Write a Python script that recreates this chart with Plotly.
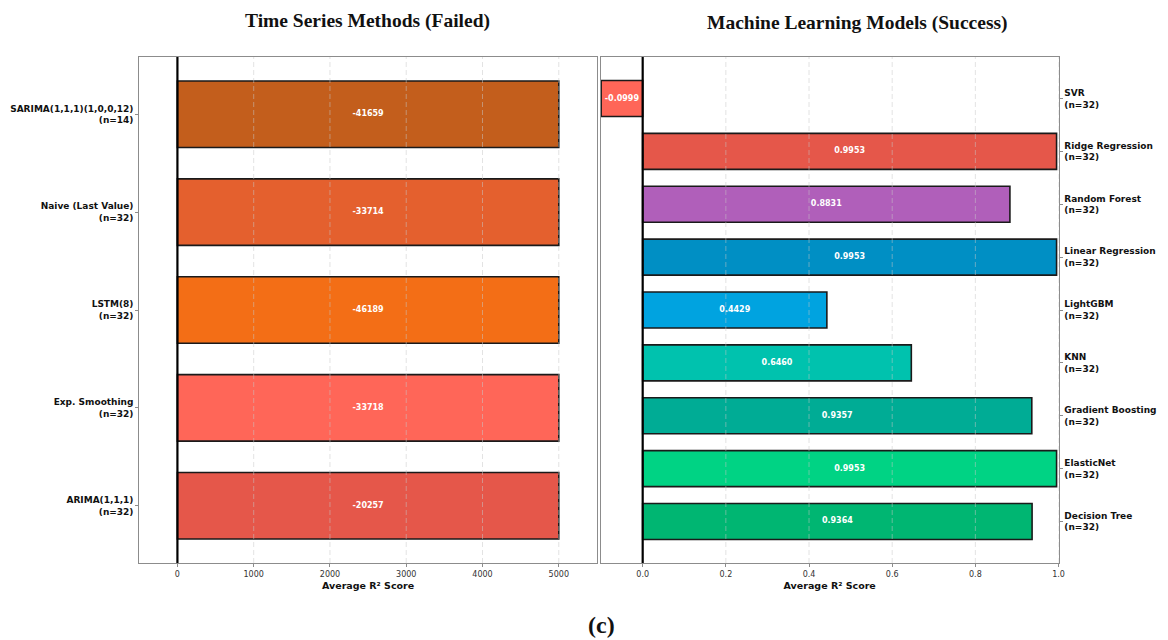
import plotly.graph_objects as go

W, H = 1168, 640

# ---------------- data ----------------
ts_methods = ["ARIMA(1,1,1)", "Exp. Smoothing", "LSTM(8)", "Naive (Last Value)", "SARIMA(1,1,1)(1,0,0,12)"]
ts_n = [32, 32, 32, 32, 14]
ts_scores = [-20257, -33718, -46189, -33714, -41659]      # actual average R²
ts_bar_lengths = [5000, 5000, 5000, 5000, 5000]            # bars shown clipped
ts_colors = ["#E5574A", "#FF6658", "#F36E16", "#E4602E", "#C35E1C"]

ml_models = ["Decision Tree", "ElasticNet", "Gradient Boosting", "KNN", "LightGBM",
             "Linear Regression", "Random Forest", "Ridge Regression", "SVR"]
ml_n = [32, 32, 32, 32, 32, 32, 32, 32, 32]
ml_scores = [0.9364, 0.9953, 0.9357, 0.6460, 0.4429, 0.9953, 0.8831, 0.9953, -0.0999]
ml_colors = ["#00B672", "#00D384", "#00AC95", "#00C2AE", "#00A3E0",
             "#008FC4", "#B05FBA", "#E5574A", "#FF6658"]

ts_ticks = [0, 1000, 2000, 3000, 4000, 5000]
ml_ticks = [0.0, 0.2, 0.4, 0.6, 0.8, 1.0]

# ---------------- layout geometry ----------------
def px_x(p):
    return p / W

def px_y(p):
    return 1 - p / H

L_dom = [px_x(140), px_x(600)]
R_dom = [px_x(604), px_x(1064)]
Y_dom = [px_y(563), px_y(57)]

fig = go.Figure()

ts_labels = [f"{m}<br>(n={n})" for m, n in zip(ts_methods, ts_n)]
ml_labels = [f"{m}<br>(n={n})" for m, n in zip(ml_models, ml_n)]

fig.add_trace(go.Bar(
    x=ts_bar_lengths, y=ts_labels, orientation="h", width=0.68,
    marker=dict(color=ts_colors, line=dict(color="#1a1a1a", width=1.6)),
    xaxis="x", yaxis="y", showlegend=False, hoverinfo="skip"))
fig.add_trace(go.Scatter(
    x=[v / 2 for v in ts_bar_lengths], y=ts_labels, mode="text",
    text=[f"{v}" for v in ts_scores],
    textfont=dict(family="DejaVu Sans", size=8, color="white", weight="bold"),
    xaxis="x", yaxis="y", showlegend=False, hoverinfo="skip"))

fig.add_trace(go.Bar(
    x=ml_scores, y=ml_labels, orientation="h", width=0.68,
    marker=dict(color=ml_colors, line=dict(color="#1a1a1a", width=1.6)),
    xaxis="x2", yaxis="y2", showlegend=False, hoverinfo="skip"))
fig.add_trace(go.Scatter(
    x=[v / 2 for v in ml_scores], y=ml_labels, mode="text",
    text=[f"{v:.4f}" for v in ml_scores],
    textfont=dict(family="DejaVu Sans", size=8, color="white", weight="bold"),
    xaxis="x2", yaxis="y2", showlegend=False, hoverinfo="skip"))

tickfont_x = dict(family="DejaVu Sans", size=8, color="#333333")
tickfont_y = dict(family="DejaVu Sans", size=9, color="#111111", weight="bold")
title_font_x = dict(family="DejaVu Sans", size=9.5, color="#111111", weight="bold")

common_x = dict(showgrid=False, zeroline=False, showline=True, linecolor="#8c8c8c",
                linewidth=1, mirror=True, ticks="outside", ticklen=3, tickcolor="#8c8c8c",
                tickfont=tickfont_x, title_standoff=4)
common_y = dict(showgrid=False, zeroline=False, showline=True, linecolor="#8c8c8c",
                linewidth=1, mirror=True, ticks="outside", ticklen=3, tickcolor="#8c8c8c",
                tickfont=tickfont_y, type="category")

fig.update_layout(
    width=W, height=H, autosize=False, margin=dict(l=0, r=0, t=0, b=0),
    paper_bgcolor="white", plot_bgcolor="white",
    xaxis=dict(domain=L_dom, range=[-500, 5500], tickvals=ts_ticks,
               title=dict(text="Average R² Score", font=title_font_x), anchor="y", **common_x),
    yaxis=dict(domain=Y_dom, range=[-0.585, 4.585], categoryorder="array",
               categoryarray=ts_labels, anchor="x", side="left", **common_y),
    xaxis2=dict(domain=R_dom, range=[-0.1005, 1.0], tickvals=ml_ticks,
                ticktext=[f"{t:.1f}" for t in ml_ticks],
                title=dict(text="Average R² Score", font=title_font_x), anchor="y2", **common_x),
    yaxis2=dict(domain=Y_dom, range=[-0.785, 8.785], categoryorder="array",
                categoryarray=ml_labels, anchor="x2", side="right", **common_y),
)

# dashed grid drawn above the bars (semi-transparent, like matplotlib's grid)
grid_line = dict(color="rgba(200,200,200,0.5)", width=1, dash="5px,3px")
for xr, yr, ticks in (("x", "y domain", ts_ticks), ("x2", "y2 domain", ml_ticks)):
    for t in ticks:
        fig.add_shape(type="line", xref=xr, yref=yr, x0=t, x1=t, y0=0, y1=1,
                      line=grid_line, layer="above")

# zero reference lines
for xr, yr in (("x", "y domain"), ("x2", "y2 domain")):
    fig.add_shape(type="line", xref=xr, yref=yr, x0=0, x1=0, y0=0, y1=1,
                  line=dict(color="black", width=2.2), layer="above")

# titles
serif = "Liberation Serif"
ann_common = dict(xref="paper", yref="paper", showarrow=False,
                  xanchor="center", yanchor="middle")
fig.add_annotation(text="<b>Time Series Methods (Failed)</b>",
                   x=px_x(369), y=px_y(21),
                   font=dict(family=serif, size=19.5, color="#111111"), **ann_common)
fig.add_annotation(text="<b>Machine Learning Models (Success)</b>",
                   x=px_x(862), y=px_y(23),
                   font=dict(family=serif, size=19.5, color="#111111"), **ann_common)
fig.add_annotation(text="<b>(c)</b>",
                   x=px_x(605), y=px_y(625),
                   font=dict(family=serif, size=24, color="#111111"), **ann_common)

fig.write_html(
    "out.html",
    config={"displayModeBar": False, "responsive": False},
    post_script="document.body.style.margin='0';document.body.style.overflow='hidden';"
                "document.documentElement.style.overflow='hidden';",
)
